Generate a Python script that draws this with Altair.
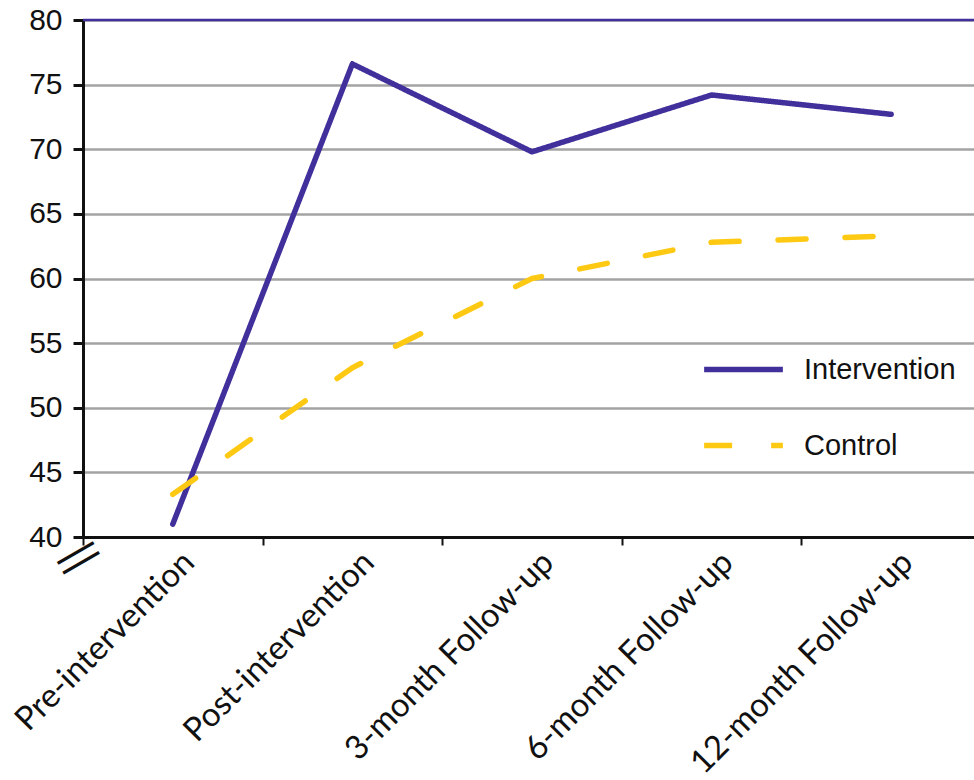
import altair as alt
import pandas as pd

categories = ["Pre-intervention", "Post-intervention", "3-month Follow-up",
              "6-month Follow-up", "12-month Follow-up"]
intervention = [41.0, 76.6, 69.8, 74.2, 72.7]
control = [43.3, 53.1, 60.0, 62.8, 63.3]
series = ["Intervention", "Control"]
y_ticks = [40, 45, 50, 55, 60, 65, 70, 75, 80]

rows = []
for c, v in zip(categories, intervention):
    rows.append({"stage": c, "value": v, "group": "Intervention"})
for c, v in zip(categories, control):
    rows.append({"stage": c, "value": v, "group": "Control"})
df = pd.DataFrame(rows)

PURPLE = "#41309B"
GOLD = "#FDC913"

x_enc = alt.X("stage:N", sort=categories, title=None,
              scale=alt.Scale(paddingInner=0, paddingOuter=0, range=[0, 898]),
              axis=alt.Axis(labelAngle=-45, labelFont="Lato", labelFontSize=33,
                            labelColor="#111111", labelAlign="right",
                            labelBaseline="middle", labelPadding=12,
                            labelOffset=16, labelLimit=0,
                            tickBand="extent", tickSize=8, tickWidth=2,
                            tickColor="#111111", domainColor="#111111",
                            domainWidth=3, grid=False))
y_enc = alt.Y("value:Q", title=None,
              scale=alt.Scale(domain=[40, 80], nice=False, zero=False),
              axis=alt.Axis(values=y_ticks, labelFont="Liberation Sans",
                            labelFontSize=30, labelColor="#111111",
                            labelPadding=11, tickSize=10, tickWidth=3,
                            tickColor="#111111", domainColor="#111111",
                            domainWidth=3, grid=True, gridColor="#A3A3A3",
                            gridWidth=2.5))

legend_kw = dict(orient="none", legendX=618, legendY=307,
                 symbolType="stroke", symbolSize=6200,
                 symbolStrokeWidth=5.5, labelFont="Liberation Sans",
                 labelFontSize=29, labelColor="#111111",
                 labelOffset=18, rowPadding=18)

lines = alt.Chart(df).mark_line(strokeWidth=5.5, strokeCap="round",
                                strokeJoin="round").encode(
    x=x_enc,
    y=y_enc,
    color=alt.Color("group:N", sort=series, title=None,
                    scale=alt.Scale(domain=series, range=[PURPLE, GOLD]),
                    legend=alt.Legend(**legend_kw)),
    strokeDash=alt.StrokeDash("group:N", sort=series, title=None,
                              scale=alt.Scale(domain=series, range=[[1, 0], [28, 39]]),
                              legend=alt.Legend(**legend_kw)),
)

top_rule = alt.Chart(pd.DataFrame({"v": [80]})).mark_rule(
    color=PURPLE, strokeWidth=2.5).encode(y="v:Q")

axis_break = alt.Chart(pd.DataFrame({"v": [40]})).mark_text(
    text=["\u2014", "\u2014"], fontSize=46, lineHeight=11, angle=330,
    color="#111111", font="DejaVu Sans").encode(
    y="v:Q", x=alt.value(-8), yOffset=alt.value(15))

chart = alt.layer(lines, top_rule, axis_break).properties(
    width=891, height=517,
    autosize=alt.AutoSizeParams(type="none"),
    padding={"left": 83, "top": 20, "right": 0, "bottom": 243},
).configure_view(stroke=None).configure(background="white")

chart.save("out.html", embed_options={"renderer": "svg", "actions": False})
